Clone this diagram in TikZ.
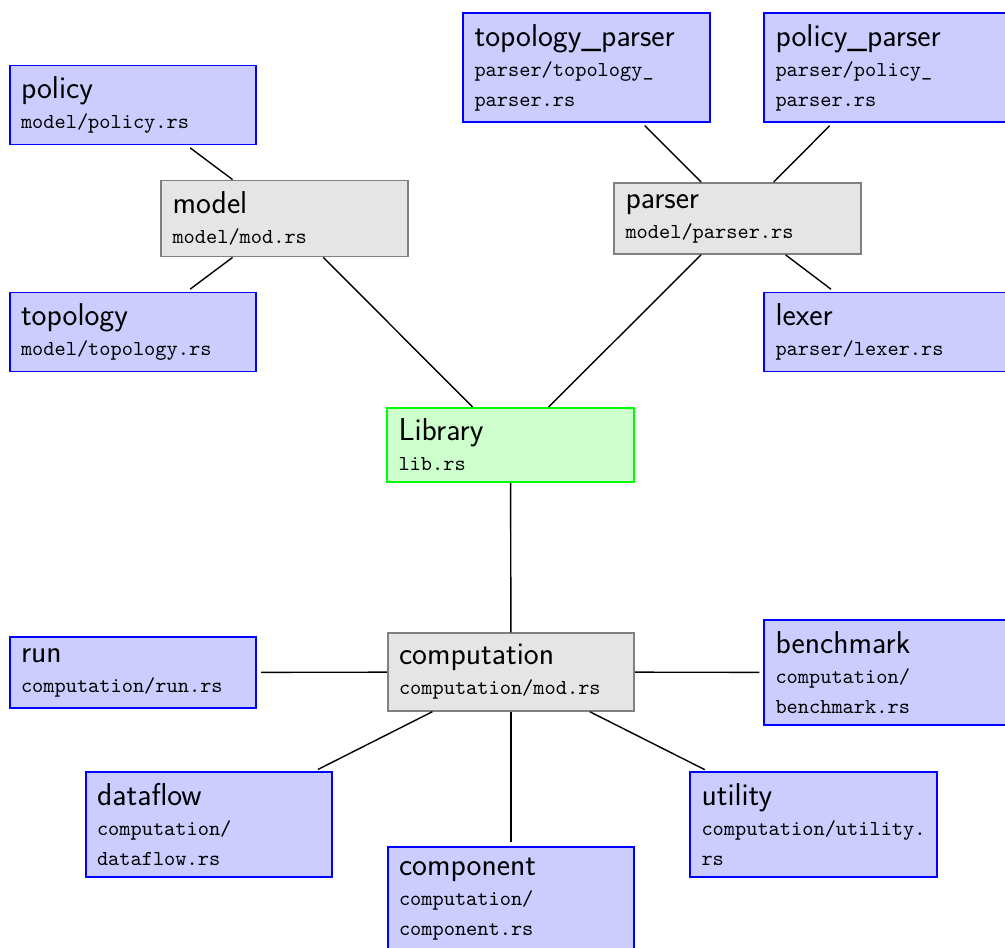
\documentclass[tikz,border=0pt]{standalone}

\tikzset{every picture/.style={line width=0.5pt}}
\tikzset{
  modbox/.style={draw, line width=0.85pt, inner sep=5.6pt, text width=112pt,
    align=left, font=\fontsize{10.67}{15}\selectfont},
  leafbox/.style={modbox, draw=blue, fill=blue!20},
  groupbox/.style={modbox, draw=gray, fill=gray!20},
  rootbox/.style={modbox, draw=green, fill=green!20},
  link/.style={line width=0.7pt},
  leaflink/.style={link, shorten >=2pt}
}
\newcommand{\modtitle}[1]{{\fontsize{15.8}{15}\selectfont\sffamily #1}}

\begin{document}
\begin{tikzpicture}[x=0.5pt,y=0.5pt,yscale=-1,xscale=1]

\useasboundingbox (0,0) rectangle (1005,947);
\clip (0,0) rectangle (1005,947);

% root
\node [rootbox] (lib) at (510.5,445) {\modtitle{Library}\\\texttt{lib.rs}};

% model side
\node [groupbox] (model) at (284.5,218.5) {\modtitle{model}\\\texttt{model/mod.rs}};
\node [leafbox] (policy) at (133,105) {\modtitle{policy}\\\texttt{model/policy.rs}};
\node [leafbox] (topology) at (133,332) {\modtitle{topology}\\\texttt{model/topology.rs}};

% parser side
\node [groupbox] (parser) at (737.5,218.5) {\modtitle{parser}\\\texttt{model/parser.rs}};
\node [leafbox] (topoparser) at (586.5,67.5) {\modtitle{topology\_parser}\\\texttt{parser/topology\_}\\\texttt{parser.rs}};
\node [leafbox] (polparser) at (887.5,67.5) {\modtitle{policy\_parser}\\\texttt{parser/policy\_}\\\texttt{parser.rs}};
\node [leafbox] (lexer) at (887.5,332) {\modtitle{lexer}\\\texttt{parser/lexer.rs}};

% computation side
\node [groupbox] (comp) at (511,672) {\modtitle{computation}\\\texttt{computation/mod.rs}};
\node [leafbox] (run) at (133,672.5) {\modtitle{run}\\\texttt{computation/run.rs}};
\node [leafbox] (bench) at (887.5,672.5) {\modtitle{benchmark}\\\texttt{computation/}\\\texttt{benchmark.rs}};
\node [leafbox] (dataflow) at (209,824.5) {\modtitle{dataflow}\\\texttt{computation/}\\\texttt{dataflow.rs}};
\node [leafbox] (utility) at (813.5,824.5) {\modtitle{utility}\\\texttt{computation/utility.}\\\texttt{rs}};
\node [leafbox] (component) at (511,899.5) {\modtitle{component}\\\texttt{computation/}\\\texttt{component.rs}};

% links
\draw [link] (lib) -- (model);
\draw [link] (lib) -- (parser);
\draw [link] (lib) -- (comp);
\draw [leaflink] (model) -- (policy);
\draw [leaflink] (model) -- (topology);
\draw [leaflink] (parser) -- (topoparser);
\draw [leaflink] (parser) -- (polparser);
\draw [leaflink] (parser) -- (lexer);
\draw [leaflink] (comp) -- (run);
\draw [leaflink] (comp) -- (bench);
\draw [leaflink] (comp) -- (dataflow);
\draw [leaflink] (comp) -- (utility);
\draw [leaflink] (comp) -- (component);

\end{tikzpicture}
\end{document}
